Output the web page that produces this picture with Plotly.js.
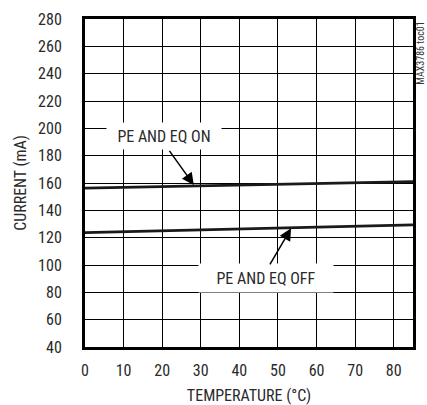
<!DOCTYPE html>
<html>
<head>
<meta charset="utf-8">
<script src="https://cdn.plot.ly/plotly-3.0.1.min.js"></script>
<style>html,body{margin:0;padding:0;background:#fff;}#chart{width:427px;height:405px;}</style>
</head>
<body>
<div id="chart"></div>
<script>
var temperature = [0, 30, 55, 85];
var currentOn = [156.3, 158.0, 159.6, 161.0];
var currentOff = [123.7, 125.8, 127.4, 129.4];
var xTicks = [0, 10, 20, 30, 40, 50, 60, 70, 80];
var yTicks = [40, 60, 80, 100, 120, 140, 160, 180, 200, 220, 240, 260, 280];
var labelOn = 'PE AND EQ ON';
var labelOff = 'PE AND EQ OFF';
var xTitle = 'TEMPERATURE (°C)';
var yTitle = 'CURRENT (mA)';
var tocLabel = 'MAX3786 toc01';

var FONT = '"Liberation Sans Narrow", "Arial Narrow", "Roboto Condensed", "Liberation Sans", Arial, sans-serif';
var TXT = '#2a2a2a';

var traces = [
  {x: temperature, y: currentOn, mode: 'lines', line: {color: '#1a1a1a', width: 2.8}, hoverinfo: 'skip'},
  {x: temperature, y: currentOff, mode: 'lines', line: {color: '#1a1a1a', width: 2.8}, hoverinfo: 'skip'}
];

var layout = {
  width: 427, height: 405,
  margin: {l: 85, r: 14, t: 19, b: 58},
  paper_bgcolor: '#fff', plot_bgcolor: '#fff',
  showlegend: false,
  font: {family: FONT, size: 16, color: TXT},
  xaxis: {
    range: [0, 85], tickvals: xTicks, ticktext: xTicks.map(String),
    showgrid: true, gridcolor: '#000', gridwidth: 1,
    zeroline: false, showline: true, linecolor: '#000', linewidth: 3, mirror: true,
    ticks: '', ticklabelstandoff: 7,
    tickfont: {family: FONT, size: 16, color: TXT},
    title: {text: xTitle, font: {family: FONT, size: 16, color: TXT}, standoff: 12}
  },
  yaxis: {
    range: [40, 280], tickvals: yTicks, ticktext: yTicks.map(String),
    showgrid: true, gridcolor: '#000', gridwidth: 1,
    zeroline: false, showline: true, linecolor: '#000', linewidth: 3, mirror: true,
    ticks: '', ticklabelstandoff: 17,
    tickfont: {family: FONT, size: 16, color: TXT},
    title: {text: yTitle, font: {family: FONT, size: 16, color: TXT}, standoff: 8}
  },
  annotations: [
    {x: 20.45, y: 194.7, xref: 'x', yref: 'y', text: labelOn, showarrow: false,
     bgcolor: '#fff', width: 112, height: 24, font: {family: FONT, size: 16, color: TXT}},
    {x: 46.9, y: 90.5, xref: 'x', yref: 'y', text: labelOff, showarrow: false,
     bgcolor: '#fff', width: 132, height: 26, font: {family: FONT, size: 16, color: TXT}},
    {x: 28.2, y: 158.6, xref: 'x', yref: 'y', ax: 21.6, ay: 184.6, axref: 'x', ayref: 'y',
     text: '', showarrow: true, arrowhead: 2, arrowsize: 1.6, arrowwidth: 1.5, arrowcolor: '#000'},
    {x: 53.4, y: 126.8, xref: 'x', yref: 'y', ax: 47.7, ay: 99.3, axref: 'x', ayref: 'y',
     text: '', showarrow: true, arrowhead: 2, arrowsize: 1.6, arrowwidth: 1.5, arrowcolor: '#000'},
    {x: 1.022, y: 0.895, xref: 'paper', yref: 'paper', xanchor: 'center', yanchor: 'middle',
     text: tocLabel, showarrow: false, textangle: -90,
     font: {family: FONT, size: 10, color: '#333'}}
  ]
};

Plotly.newPlot('chart', traces, layout, {displayModeBar: false, staticPlot: true});
</script>
</body>
</html>
